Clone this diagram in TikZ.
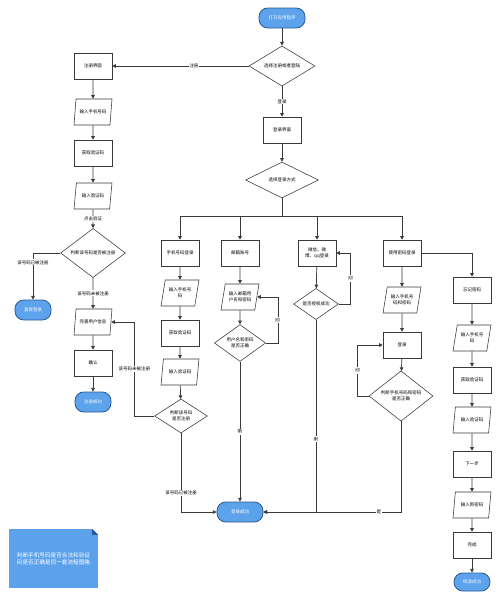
\documentclass[tikz,border=0pt]{standalone}
\usepackage{fontspec}
\newfontfamily\cjk{Noto Sans CJK SC}
\usetikzlibrary{arrows.meta,positioning,calc,shapes.geometric}
\definecolor{linec}{HTML}{3A3A3A}
\definecolor{termc}{HTML}{5CA3EC}
\definecolor{termd}{HTML}{2B5C96}
\definecolor{notec}{HTML}{5BA2EB}
\tikzset{
  proc/.style={draw=linec,fill=white,minimum width=0.95cm,minimum height=0.65cm,align=center,inner sep=1pt},
  io/.style={trapezium,trapezium left angle=73,trapezium right angle=107,trapezium stretches=true,draw=linec,fill=white,minimum width=0.95cm,minimum height=0.65cm,align=center,inner sep=0.5pt},
  judge/.style={diamond,draw=linec,fill=white,align=center,inner sep=0pt},
  term/.style={draw=termd,fill=termc,rounded corners=0.22cm,minimum width=1.15cm,minimum height=0.5cm,text=white,line width=0.6pt},
  arr/.style={-{Triangle[length=2.6pt,width=2.6pt]},draw=linec,line width=0.5pt},
  lbl/.style={fill=white,inner sep=0.6pt}
}
\begin{document}
\begin{tikzpicture}[x=0.025cm,y=-0.025cm,font=\cjk\fontsize{3.2}{4}\selectfont]
    \useasboundingbox[fill=white] (0,0) rectangle (500,600);
    \node[term] (start) at (282,18){打开应用程序};
    \node[judge,minimum width=1.65cm,minimum height=0.9cm] (choice) at (282,66){选择注册或者登陆};
    \node[proc] (regpage) at (93,66){注册界面};
    \node[proc] (loginpage) at (282,130){登录界面};
    \node[judge,minimum width=1.82cm,minimum height=0.9cm] (loginway) at (282,180){选择登录方式};
    \coordinate (split) at (282,216);
    % register column
    \node[io] (regphone) at (93,112){输入手机号码};
    \node[proc] (regcode) at (93,153){获取验证码};
    \node[io] (regvcode) at (93,196){输入验证码};
    \node[judge,minimum width=1.62cm,minimum height=0.75cm] (regjudge) at (93,253){判断该号码是否被注册};
    \node[term,minimum width=0.9cm] (direct) at (33,310){直接登录};
    \node[io] (perfect) at (93,322){完善用户信息};
    \node[proc] (confirm) at (93,363){确认};
    \node[term,minimum width=0.9cm] (regok) at (93,402){注册成功};
    % phone column
    \node[proc] (phone) at (180,253){手机号码登录};
    \node[io] (phinput) at (180,293){输入手机号\\码};
    \node[proc] (phcode) at (180,333){获取验证码};
    \node[io] (phvcode) at (180,372){输入验证码};
    \node[judge,minimum width=1.32cm,minimum height=0.85cm] (phjudge) at (181,416){判断该号码\\是否注册};
    % email column
    \node[proc] (email) at (240,253){邮箱账号};
    \node[io] (eminput) at (240,297){输入邮箱用\\户名和密码};
    \node[judge,minimum width=1.28cm,minimum height=0.85cm] (emjudge) at (240,343){用户名和密码\\是否正确};
    % wechat column
    \node[proc] (wechat) at (317,253){微信、微\\博、qq登录};
    \node[judge,minimum width=1.12cm,minimum height=0.7cm] (wxjudge) at (316,304){是否授权成功};
    % password column
    \node[proc] (pwd) at (402,253){使用密码登录};
    \node[io] (pwinput) at (402,300){输入手机号\\码和密码};
    \node[proc] (pwlogin) at (402,345){登录};
    \node[judge,minimum width=1.6cm,minimum height=0.9cm] (pwjudge) at (401,396){判断手机号码和密码\\是否正确};
    % forget column
    \node[proc] (forget) at (472,290){忘记密码};
    \node[io] (fgphone) at (472,338){输入手机号\\码};
    \node[proc] (fgcode) at (472,380){获取验证码};
    \node[io] (fgvcode) at (472,420){输入验证码};
    \node[proc] (fgnext) at (472,464){下一步};
    \node[io] (fgnew) at (472,505){输入新密码};
    \node[proc] (fgdone) at (472,545){完成};
    \node[term,minimum width=0.9cm,minimum height=0.45cm] (fgok) at (472,582){修改成功};
    \node[term] (success) at (240,512){登录成功};
    % note
    \node[fill=notec,minimum width=2.22cm,minimum height=1.47cm,text=white,align=center,font=\cjk\fontsize{4}{5.2}\selectfont] (memo) at (53.5,558.5){判断手机号码是否合法和验证\\码是否正确是同一套流程图略};
    \fill[white] (memo.north east) -- ([xshift=-0.15cm]memo.north east) -- ([yshift=-0.15cm]memo.north east) -- cycle;
    \fill[termd] ([xshift=-0.15cm]memo.north east) -- ([yshift=-0.15cm]memo.north east) -- ([xshift=-0.15cm,yshift=-0.15cm]memo.north east) -- cycle;
    % top connectors
    \draw[arr] (start) -- (choice);
    \draw[arr] (choice.west) -- node[lbl,pos=0.4]{注册} (regpage.east);
    \draw[arr] (choice.south) -- node[lbl]{登录} (loginpage.north);
    \draw[arr] (loginpage) -- (loginway);
    \draw[linec,line width=0.5pt] (loginway.south) -- (split);
    \draw[arr] (split) -| (phone.north);
    \draw[arr] (split) -| (email.north);
    \draw[arr] (split) -| (wechat.north);
    \draw[arr] (split) -| (pwd.north);
    % register connectors
    \draw[arr] (regpage) -- (regphone);
    \draw[arr] (regphone) -- (regcode);
    \draw[arr] (regcode) -- (regvcode);
    \draw[arr] (regvcode) -- node[lbl]{点击验证} (regjudge);
    \draw[arr] (regjudge.west) -| node[lbl,pos=0.6]{该号码已被注册} (direct.north);
    \draw[arr] (regjudge.south) -- node[lbl]{该号码未被注册} (perfect.north);
    \draw[arr] (perfect) -- (confirm);
    \draw[arr] (confirm) -- (regok);
    % phone connectors
    \draw[arr] (phjudge.west) -- ++(-20,0) |- node[lbl,pos=0.25]{该号码未被注册} (perfect.east);
    \draw[arr] (phone) -- (phinput);
    \draw[arr] (phinput) -- (phcode);
    \draw[arr] (phcode) -- (phvcode);
    \draw[arr] (phvcode) -- (phjudge);
    \draw[arr] (phjudge.south) |- node[lbl,pos=0.38]{该号码已被注册} (success.west);
    % email connectors
    \draw[arr] (email) -- (eminput);
    \draw[arr] (eminput) -- (emjudge);
    \draw[arr] (emjudge.east) -- ++(12,0) |- node[lbl,pos=0.25,rotate=90]{否} (eminput.east);
    \draw[arr] (emjudge.south) -- node[lbl,pos=0.5,rotate=90]{是} (success.north);
    % wechat connectors
    \draw[arr] (wechat) -- (wxjudge);
    \draw[arr] (wxjudge.east) -- ++(12,0) |- node[lbl,pos=0.25,rotate=90]{否} (wechat.east);
    \draw[arr] (wxjudge.south) |- node[lbl,pos=0.31,rotate=90]{是} (success.east);
    % password connectors
    \draw[arr] (pwd) -- (pwinput);
    \draw[arr] (pwinput) -- (pwlogin);
    \draw[arr] (pwlogin) -- (pwjudge);
    \draw[arr] (pwjudge.west) -- ++(-11,0) |- node[lbl,pos=0.25,rotate=90]{否} (pwlogin.west);
    \draw[arr] (pwjudge.south) |- node[lbl,pos=0.58]{是} (success.east);
    \draw[arr] (pwd.east) -| (forget.north);
    % forget connectors
    \draw[arr] (forget) -- (fgphone);
    \draw[arr] (fgphone) -- (fgcode);
    \draw[arr] (fgcode) -- (fgvcode);
    \draw[arr] (fgvcode) -- (fgnext);
    \draw[arr] (fgnext) -- (fgnew);
    \draw[arr] (fgnew) -- (fgdone);
    \draw[arr] (fgdone) -- (fgok);
  \end{tikzpicture}
\end{document}
